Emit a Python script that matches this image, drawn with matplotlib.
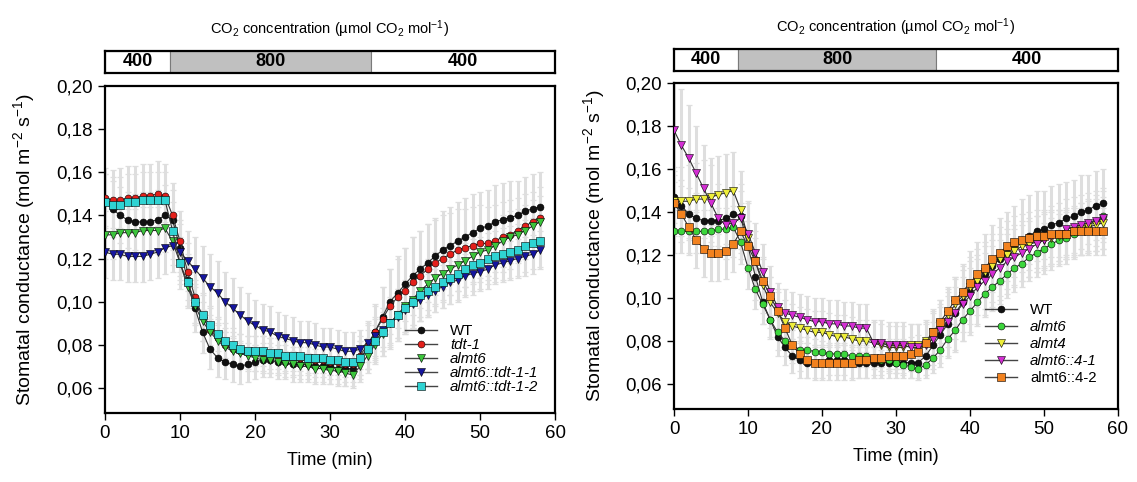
import matplotlib.pyplot as plt
from matplotlib.lines import Line2D

plt.rcParams['font.family'] = ['Liberation Sans', 'DejaVu Sans']
plt.rcParams['mathtext.fontset'] = 'custom'
plt.rcParams['mathtext.rm'] = 'Liberation Sans'
plt.rcParams['mathtext.it'] = 'Liberation Sans:italic'
plt.rcParams['mathtext.bf'] = 'Liberation Sans:bold'

# ---------------- data ----------------
time_min = [0, 1, 2, 3, 4, 5, 6, 7, 8, 9,
            10, 11, 12, 13, 14, 15, 16, 17, 18, 19,
            20, 21, 22, 23, 24, 25, 26, 27, 28, 29,
            30, 31, 32, 33, 34, 35, 36, 37, 38, 39,
            40, 41, 42, 43, 44, 45, 46, 47, 48, 49,
            50, 51, 52, 53, 54, 55, 56, 57, 58]

co2_edges = [0, 8.7, 35.4, 60]
co2_labels = ['400', '800', '400']

x_ticks = [0, 10, 20, 30, 40, 50, 60]
y_ticks = [0.06, 0.08, 0.10, 0.12, 0.14, 0.16, 0.18, 0.20]
y_tick_labels = ['0,06', '0,08', '0,10', '0,12', '0,14', '0,16', '0,18', '0,20']

# left panel
left_names = ['WT', 'tdt-1', 'almt6', 'almt6::tdt-1-1', 'almt6::tdt-1-2']
wt_left = [0.146, 0.143, 0.140, 0.138, 0.137, 0.137, 0.137, 0.138, 0.140, 0.138,
           0.125, 0.110, 0.097, 0.086, 0.078, 0.074, 0.072, 0.071, 0.070, 0.071,
           0.072, 0.073, 0.073, 0.072, 0.072, 0.071, 0.071, 0.071, 0.070, 0.070,
           0.070, 0.069, 0.069, 0.069, 0.073, 0.079, 0.086, 0.093, 0.100, 0.104,
           0.108, 0.112, 0.115, 0.118, 0.121, 0.124, 0.126, 0.128, 0.130, 0.132,
           0.134, 0.135, 0.137, 0.138, 0.139, 0.140, 0.142, 0.143, 0.144]
tdt1_left = [0.148, 0.147, 0.147, 0.148, 0.148, 0.149, 0.149, 0.150, 0.149, 0.140,
             0.128, 0.114, 0.102, 0.093, 0.087, 0.083, 0.080, 0.078, 0.077, 0.076,
             0.076, 0.076, 0.075, 0.075, 0.075, 0.074, 0.074, 0.074, 0.073, 0.073,
             0.072, 0.072, 0.071, 0.071, 0.075, 0.080, 0.086, 0.092, 0.098, 0.102,
             0.105, 0.109, 0.112, 0.115, 0.118, 0.120, 0.122, 0.124, 0.125, 0.126,
             0.127, 0.127, 0.128, 0.130, 0.131, 0.133, 0.135, 0.137, 0.139]
almt6_left = [0.131, 0.131, 0.132, 0.132, 0.132, 0.133, 0.133, 0.133, 0.134, 0.128,
              0.118, 0.107, 0.098, 0.091, 0.086, 0.082, 0.079, 0.077, 0.076, 0.075,
              0.074, 0.073, 0.073, 0.072, 0.071, 0.071, 0.070, 0.070, 0.069, 0.069,
              0.068, 0.068, 0.067, 0.066, 0.070, 0.075, 0.080, 0.085, 0.090, 0.094,
              0.098, 0.101, 0.105, 0.108, 0.111, 0.113, 0.115, 0.117, 0.119, 0.121,
              0.123, 0.124, 0.126, 0.128, 0.130, 0.131, 0.133, 0.135, 0.137]
tdt11_left = [0.123, 0.122, 0.122, 0.121, 0.121, 0.121, 0.122, 0.123, 0.125, 0.126,
              0.123, 0.119, 0.115, 0.111, 0.107, 0.104, 0.100, 0.097, 0.094, 0.091,
              0.089, 0.087, 0.086, 0.084, 0.083, 0.082, 0.081, 0.081, 0.080, 0.079,
              0.079, 0.078, 0.077, 0.077, 0.078, 0.081, 0.084, 0.087, 0.090, 0.093,
              0.096, 0.099, 0.101, 0.103, 0.105, 0.107, 0.109, 0.110, 0.112, 0.113,
              0.114, 0.115, 0.117, 0.118, 0.119, 0.120, 0.121, 0.122, 0.124]
tdt12_left = [0.146, 0.145, 0.145, 0.146, 0.146, 0.147, 0.147, 0.147, 0.147, 0.133,
              0.118, 0.109, 0.100, 0.094, 0.089, 0.085, 0.082, 0.080, 0.078, 0.077,
              0.077, 0.077, 0.076, 0.076, 0.075, 0.075, 0.075, 0.074, 0.074, 0.074,
              0.073, 0.073, 0.072, 0.072, 0.074, 0.078, 0.082, 0.086, 0.090, 0.094,
              0.097, 0.100, 0.103, 0.105, 0.107, 0.109, 0.111, 0.113, 0.115, 0.117,
              0.118, 0.120, 0.121, 0.122, 0.123, 0.124, 0.126, 0.127, 0.128]

se_wt_left = [0.013, 0.013, 0.013, 0.013, 0.013, 0.014, 0.014, 0.014, 0.014, 0.014,
              0.013, 0.012, 0.011, 0.010, 0.009, 0.009, 0.008, 0.008, 0.008, 0.008,
              0.008, 0.008, 0.008, 0.008, 0.008, 0.008, 0.008, 0.008, 0.008, 0.008,
              0.008, 0.008, 0.008, 0.008, 0.009, 0.010, 0.012, 0.014, 0.015, 0.016,
              0.017, 0.018, 0.018, 0.018, 0.018, 0.018, 0.018, 0.018, 0.018, 0.018,
              0.017, 0.017, 0.017, 0.017, 0.017, 0.016, 0.016, 0.016, 0.016]
se_tdt1_left = [0.014, 0.014, 0.015, 0.015, 0.015, 0.015, 0.015, 0.015, 0.015, 0.015,
                0.014, 0.013, 0.012, 0.011, 0.010, 0.009, 0.008, 0.008, 0.008, 0.008,
                0.008, 0.008, 0.008, 0.008, 0.008, 0.008, 0.008, 0.008, 0.008, 0.008,
                0.008, 0.008, 0.008, 0.008, 0.009, 0.011, 0.013, 0.015, 0.017, 0.019,
                0.020, 0.021, 0.021, 0.021, 0.020, 0.020, 0.019, 0.019, 0.018, 0.018,
                0.018, 0.017, 0.017, 0.016, 0.016, 0.015, 0.015, 0.014, 0.014]
se_almt6_left = [0.011, 0.011, 0.011, 0.011, 0.011, 0.011, 0.011, 0.011, 0.011, 0.011,
                 0.010, 0.010, 0.009, 0.009, 0.008, 0.008, 0.007, 0.007, 0.006, 0.006,
                 0.006, 0.006, 0.006, 0.006, 0.006, 0.006, 0.006, 0.006, 0.006, 0.006,
                 0.006, 0.006, 0.006, 0.006, 0.007, 0.008, 0.009, 0.010, 0.011, 0.012,
                 0.012, 0.012, 0.012, 0.012, 0.012, 0.012, 0.012, 0.012, 0.012, 0.012,
                 0.012, 0.012, 0.012, 0.012, 0.012, 0.012, 0.012, 0.012, 0.012]
se_tdt11_left = [0.012, 0.012, 0.012, 0.012, 0.012, 0.012, 0.012, 0.012, 0.012, 0.012,
                 0.013, 0.014, 0.015, 0.015, 0.015, 0.015, 0.014, 0.014, 0.013, 0.013,
                 0.012, 0.012, 0.012, 0.011, 0.011, 0.011, 0.010, 0.010, 0.010, 0.009,
                 0.009, 0.009, 0.009, 0.009, 0.009, 0.009, 0.009, 0.010, 0.010, 0.010,
                 0.010, 0.010, 0.010, 0.010, 0.010, 0.010, 0.010, 0.010, 0.010, 0.010,
                 0.009, 0.009, 0.009, 0.009, 0.009, 0.009, 0.009, 0.009, 0.009]
se_tdt12_left = [0.013, 0.013, 0.013, 0.013, 0.013, 0.013, 0.013, 0.013, 0.013, 0.013,
                 0.012, 0.011, 0.010, 0.009, 0.009, 0.008, 0.008, 0.008, 0.007, 0.007,
                 0.007, 0.007, 0.007, 0.007, 0.007, 0.007, 0.007, 0.007, 0.007, 0.007,
                 0.007, 0.007, 0.007, 0.007, 0.008, 0.009, 0.010, 0.011, 0.012, 0.012,
                 0.012, 0.012, 0.012, 0.012, 0.012, 0.012, 0.012, 0.012, 0.012, 0.012,
                 0.012, 0.012, 0.012, 0.012, 0.012, 0.012, 0.012, 0.012, 0.012]

# right panel
right_names = ['WT', 'almt6', 'almt4', 'almt6::4-1', 'almt6::4-2']
wt_right = [0.147, 0.143, 0.139, 0.137, 0.136, 0.136, 0.136, 0.137, 0.139, 0.138,
            0.124, 0.110, 0.098, 0.090, 0.082, 0.077, 0.073, 0.071, 0.070, 0.070,
            0.070, 0.071, 0.071, 0.071, 0.070, 0.070, 0.070, 0.070, 0.070, 0.070,
            0.070, 0.070, 0.070, 0.070, 0.073, 0.078, 0.083, 0.088, 0.093, 0.098,
            0.103, 0.107, 0.111, 0.115, 0.118, 0.121, 0.124, 0.127, 0.129, 0.131,
            0.132, 0.134, 0.135, 0.137, 0.138, 0.140, 0.141, 0.143, 0.144]
almt6_right = [0.131, 0.131, 0.131, 0.131, 0.131, 0.131, 0.132, 0.132, 0.133, 0.126,
               0.114, 0.104, 0.097, 0.090, 0.084, 0.080, 0.078, 0.076, 0.076, 0.075,
               0.075, 0.074, 0.074, 0.074, 0.073, 0.073, 0.073, 0.072, 0.071, 0.071,
               0.070, 0.069, 0.068, 0.067, 0.069, 0.072, 0.076, 0.081, 0.085, 0.090,
               0.094, 0.098, 0.102, 0.105, 0.108, 0.111, 0.114, 0.116, 0.119, 0.121,
               0.123, 0.125, 0.127, 0.128, 0.130, 0.132, 0.134, 0.136, 0.138]
almt4_right = [0.145, 0.145, 0.145, 0.146, 0.146, 0.147, 0.148, 0.149, 0.150, 0.141,
               0.128, 0.117, 0.106, 0.098, 0.093, 0.089, 0.087, 0.086, 0.085, 0.084,
               0.084, 0.083, 0.082, 0.082, 0.081, 0.080, 0.080, 0.079, 0.078, 0.077,
               0.077, 0.077, 0.078, 0.078, 0.080, 0.084, 0.088, 0.092, 0.097, 0.101,
               0.105, 0.108, 0.112, 0.115, 0.118, 0.120, 0.122, 0.124, 0.125, 0.126,
               0.127, 0.128, 0.129, 0.130, 0.131, 0.132, 0.133, 0.134, 0.135]
almt641_right = [0.178, 0.171, 0.165, 0.158, 0.151, 0.144, 0.137, 0.134, 0.135, 0.137,
                 0.130, 0.121, 0.112, 0.103, 0.096, 0.093, 0.092, 0.091, 0.090, 0.089,
                 0.089, 0.088, 0.088, 0.087, 0.087, 0.086, 0.086, 0.079, 0.079, 0.078,
                 0.078, 0.078, 0.077, 0.077, 0.078, 0.081, 0.085, 0.089, 0.093, 0.097,
                 0.101, 0.105, 0.108, 0.111, 0.114, 0.117, 0.119, 0.121, 0.123, 0.125,
                 0.127, 0.129, 0.130, 0.132, 0.133, 0.134, 0.135, 0.136, 0.137]
almt642_right = [0.144, 0.139, 0.133, 0.127, 0.123, 0.121, 0.121, 0.122, 0.125, 0.131,
                 0.124, 0.117, 0.108, 0.101, 0.094, 0.086, 0.078, 0.074, 0.071, 0.070,
                 0.070, 0.070, 0.070, 0.070, 0.070, 0.071, 0.071, 0.072, 0.072, 0.073,
                 0.073, 0.073, 0.074, 0.075, 0.079, 0.084, 0.089, 0.094, 0.099, 0.103,
                 0.107, 0.111, 0.114, 0.118, 0.121, 0.124, 0.126, 0.127, 0.128, 0.129,
                 0.129, 0.130, 0.130, 0.130, 0.131, 0.131, 0.131, 0.131, 0.131]

se_wt_right = [0.012, 0.012, 0.012, 0.012, 0.012, 0.012, 0.012, 0.012, 0.012, 0.012,
               0.012, 0.011, 0.010, 0.009, 0.009, 0.008, 0.008, 0.008, 0.007, 0.007,
               0.007, 0.007, 0.007, 0.007, 0.007, 0.007, 0.007, 0.007, 0.007, 0.007,
               0.007, 0.007, 0.007, 0.007, 0.009, 0.011, 0.013, 0.015, 0.017, 0.018,
               0.019, 0.019, 0.019, 0.019, 0.019, 0.019, 0.019, 0.019, 0.019, 0.019,
               0.018, 0.018, 0.018, 0.017, 0.017, 0.017, 0.016, 0.016, 0.016]
se_almt6_right = [0.010, 0.010, 0.010, 0.010, 0.010, 0.010, 0.010, 0.010, 0.010, 0.010,
                  0.010, 0.009, 0.009, 0.008, 0.008, 0.007, 0.007, 0.006, 0.006, 0.006,
                  0.005, 0.005, 0.005, 0.005, 0.005, 0.005, 0.005, 0.005, 0.005, 0.005,
                  0.005, 0.005, 0.005, 0.005, 0.006, 0.007, 0.008, 0.009, 0.010, 0.010,
                  0.011, 0.011, 0.011, 0.011, 0.011, 0.011, 0.011, 0.011, 0.011, 0.011,
                  0.012, 0.012, 0.012, 0.012, 0.012, 0.012, 0.012, 0.012, 0.012]
se_almt4_right = [0.016, 0.016, 0.017, 0.017, 0.018, 0.018, 0.018, 0.018, 0.018, 0.018,
                  0.016, 0.014, 0.013, 0.012, 0.011, 0.010, 0.010, 0.010, 0.010, 0.010,
                  0.010, 0.010, 0.010, 0.010, 0.010, 0.010, 0.010, 0.010, 0.010, 0.010,
                  0.010, 0.010, 0.010, 0.010, 0.010, 0.011, 0.011, 0.012, 0.012, 0.012,
                  0.012, 0.012, 0.012, 0.012, 0.012, 0.012, 0.012, 0.012, 0.012, 0.012,
                  0.012, 0.012, 0.012, 0.012, 0.012, 0.012, 0.012, 0.012, 0.012]
se_almt641_right = [0.024, 0.026, 0.025, 0.022, 0.020, 0.018, 0.016, 0.016, 0.016, 0.016,
                    0.015, 0.014, 0.013, 0.012, 0.011, 0.011, 0.011, 0.011, 0.011, 0.011,
                    0.011, 0.011, 0.011, 0.011, 0.011, 0.011, 0.011, 0.011, 0.011, 0.011,
                    0.011, 0.011, 0.011, 0.011, 0.011, 0.012, 0.012, 0.012, 0.012, 0.013,
                    0.013, 0.013, 0.013, 0.013, 0.013, 0.013, 0.013, 0.013, 0.013, 0.013,
                    0.014, 0.014, 0.014, 0.014, 0.014, 0.014, 0.014, 0.014, 0.014]
se_almt642_right = [0.013, 0.013, 0.013, 0.013, 0.013, 0.013, 0.013, 0.013, 0.013, 0.013,
                    0.012, 0.011, 0.010, 0.009, 0.009, 0.008, 0.008, 0.008, 0.008, 0.008,
                    0.008, 0.008, 0.008, 0.008, 0.008, 0.008, 0.008, 0.008, 0.008, 0.008,
                    0.008, 0.008, 0.008, 0.008, 0.009, 0.010, 0.010, 0.011, 0.011, 0.012,
                    0.012, 0.012, 0.012, 0.012, 0.012, 0.012, 0.012, 0.012, 0.012, 0.012,
                    0.011, 0.011, 0.011, 0.011, 0.011, 0.011, 0.011, 0.011, 0.011]

left_values = [wt_left, tdt1_left, almt6_left, tdt11_left, tdt12_left]
left_errors = [se_wt_left, se_tdt1_left, se_almt6_left, se_tdt11_left, se_tdt12_left]
right_values = [wt_right, almt6_right, almt4_right, almt641_right, almt642_right]
right_errors = [se_wt_right, se_almt6_right, se_almt4_right, se_almt641_right, se_almt642_right]

# ---------------- styles ----------------
left_styles = [('#111111', 'o', 5.0, False),
               ('#e3201b', 'o', 5.0, True),
               ('#3cc43c', 'v', 5.8, True),
               ('#15159e', 'v', 5.8, True),
               ('#2fd3d3', 's', 5.3, True)]
right_styles = [('#111111', 'o', 5.0, False),
                ('#3cd63c', 'o', 5.0, True),
                ('#eeee3a', 'v', 5.8, True),
                ('#d22ed2', 'v', 5.8, True),
                ('#f2821f', 's', 5.3, False)]
bar_fill = ['white', '#c0c0c0', 'white']

W, H = 1137, 482
fig = plt.figure(figsize=(W / 100, H / 100), dpi=100)


def px_rect(x0, y_top, x1, y_bot):
    return [x0 / W, 1 - y_bot / H, (x1 - x0) / W, (y_bot - y_top) / H]


def draw_panel(main_rect, bar_rect, values, errors, names, styles, leg_anchor, row_gap):
    ax = fig.add_axes(main_rect)
    axb = fig.add_axes(bar_rect)

    # CO2 bar
    for i, lab in enumerate(co2_labels):
        axb.barh(0, co2_edges[i + 1] - co2_edges[i], left=co2_edges[i], height=1,
                 color=bar_fill[i], edgecolor='#7a7a7a', linewidth=0.8)
        axb.text((co2_edges[i] + co2_edges[i + 1]) / 2, 0, lab, ha='center', va='center',
                 fontsize=13, fontweight='bold')
    axb.set_xlim(0, 60)
    axb.set_ylim(-0.5, 0.5)
    axb.set_xticks([])
    axb.set_yticks([])
    for s in axb.spines.values():
        s.set_linewidth(1.6)
    axb.annotate('CO$_2$ concentration (µmol CO$_2$ mol$^{-1}$)', xy=(0.5, 1),
                 xycoords='axes fraction', xytext=(0, 16), textcoords='offset points',
                 ha='center', va='center', fontsize=10.5)

    # error bars first, then series
    for v, e in zip(values, errors):
        ax.errorbar(time_min, v, yerr=e, fmt='none', ecolor='#dedede', elinewidth=2.2,
                    capsize=2.5, capthick=0.9, zorder=1)
    handles = []
    for i, (v, (c, m, ms, it)) in enumerate(zip(values, styles)):
        ax.plot(time_min, v, color='#333333', lw=0.8, marker=m, ms=ms, mfc=c,
                mec='black', mew=0.4, zorder=3 + i)
        handles.append(Line2D([], [], color='#444444', lw=1.0, marker=m, ms=ms,
                              mfc=c, mec='black', mew=0.4))

    ax.set_xlim(0, 60)
    ax.set_ylim(0.0484, 0.20)
    ax.set_xticks(x_ticks)
    ax.set_yticks(y_ticks)
    ax.set_yticklabels(y_tick_labels)
    ax.tick_params(direction='out', length=5, width=1, labelsize=13.5, pad=4,
                   top=False, right=False)
    for s in ax.spines.values():
        s.set_linewidth(1.6)
    ax.set_xlabel('Time (min)', fontsize=13, labelpad=7)
    ax.set_ylabel('Stomatal conductance (mol m$^{-2}$ s$^{-1}$)', fontsize=14)
    ax.yaxis.set_label_coords(-0.15, 0.5)

    leg = ax.legend(handles, names, loc='upper left', bbox_to_anchor=leg_anchor,
                    bbox_transform=fig.transFigure, frameon=False, fontsize=10.8,
                    borderpad=0, borderaxespad=0, handlelength=2.1, handletextpad=0.9,
                    labelspacing=row_gap)
    for txt, st in zip(leg.get_texts(), styles):
        if st[3]:
            txt.set_fontstyle('italic')
    return ax


draw_panel(px_rect(105, 86, 555, 413), px_rect(105, 51, 555, 73),
           left_values, left_errors, left_names, left_styles,
           (405 / W, 1 - 324 / H), 0.0)
draw_panel(px_rect(674, 83, 1118, 409), px_rect(674, 49, 1118, 71),
           right_values, right_errors, right_names, right_styles,
           (985 / W, 1 - 303 / H), 0.2)

fig.savefig('out.png', dpi=100)
